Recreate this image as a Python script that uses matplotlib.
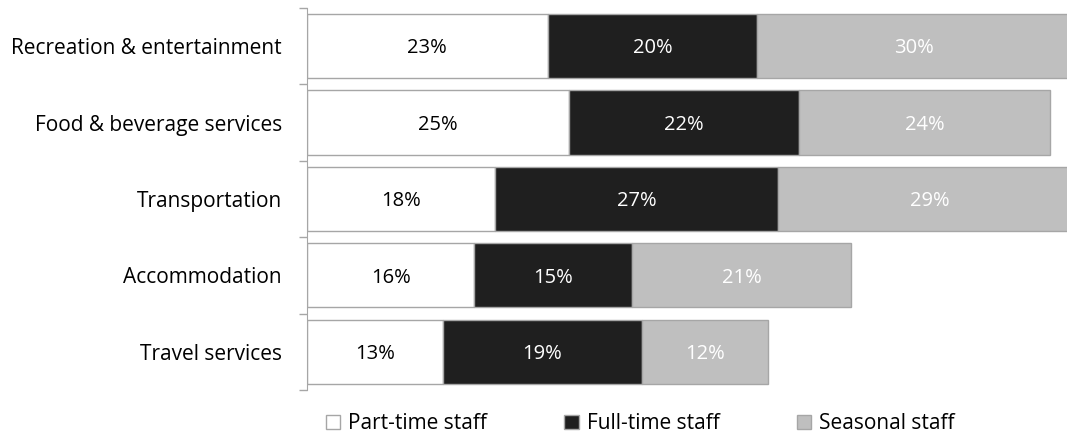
import matplotlib.pyplot as plt
from matplotlib.patches import Patch
import numpy as np

categories = ['Recreation & entertainment', 'Food & beverage services', 'Transportation',
              'Accommodation', 'Travel services']
part_time = [23, 25, 18, 16, 13]
full_time = [20, 22, 27, 15, 19]
seasonal = [30, 24, 29, 21, 12]
series_names = ['Part-time staff', 'Full-time staff', 'Seasonal staff']

plt.rcParams['font.family'] = ['Open Sans', 'DejaVu Sans']

fig = plt.figure(figsize=(10.67, 4.36), dpi=100)
ax = fig.add_axes([0.2877, 0.1055, 0.7123, 0.8762])

y = np.arange(len(categories))[::-1]
colors = ['#ffffff', '#1f1f1f', '#bfbfbf']
text_colors = ['black', 'white', 'white']
left = np.zeros(len(categories))
for vals, col, tcol in zip([part_time, full_time, seasonal], colors, text_colors):
    vals = np.array(vals)
    ax.barh(y, vals, left=left, height=0.84, color=col, edgecolor='#a6a6a6', linewidth=1)
    for yi, l, v in zip(y, left, vals):
        ax.text(l + v / 2, yi - 0.03, f'{v}%', ha='center', va='center', color=tcol, fontsize=14.5)
    left += vals

ax.set_xlim(0, 72.6)
ax.set_ylim(-0.5, len(categories) - 0.5)
ax.set_xticks([])
ax.set_yticks(y)
ax.set_yticklabels(categories, fontsize=15)
ax.tick_params(axis='y', which='major', length=0, pad=18)
ax.set_yticks(np.arange(-0.5, len(categories)), minor=True)
ax.tick_params(axis='y', which='minor', length=6, color='#a6a6a6', width=1)
for side in ['top', 'right', 'bottom']:
    ax.spines[side].set_visible(False)
ax.spines['left'].set_color('#a6a6a6')

handles = [Patch(facecolor=c, edgecolor='#a6a6a6') for c in colors]
fig.legend(handles, series_names, loc='center', bbox_to_anchor=(0.6, 0.028), ncol=3,
           frameon=False, fontsize=15, handlelength=0.7, handleheight=0.7,
           handletextpad=0.38, columnspacing=3.7, borderpad=0, borderaxespad=0)

plt.savefig('out.png', dpi=100)
